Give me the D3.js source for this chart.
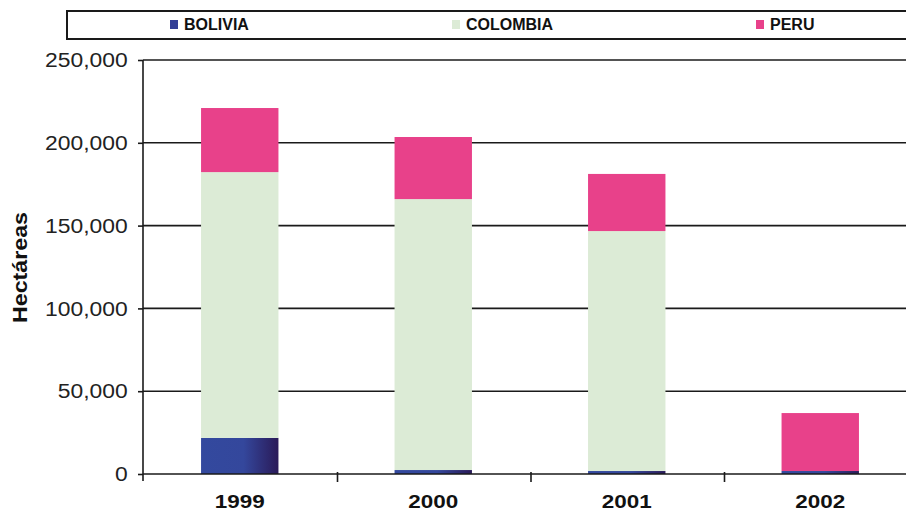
<!DOCTYPE html>
<html>
<head>
<meta charset="utf-8">
<script src="https://cdn.jsdelivr.net/npm/d3@7"></script>
<style>
  body { margin: 0; background: #fff; }
  svg { display: block; font-family: "Liberation Sans", Arial, sans-serif; }
</style>
</head>
<body>
<svg width="906" height="512"></svg>
<script>
// years on the x axis
var years = ["1999", "2000", "2001", "2002"];
// hectares per country
var bolivia = [21800, 2400, 1800, 1800];
var colombia = [160500, 163600, 144900, 0];
var peru = [38700, 37500, 34500, 35000];
var countries = ["BOLIVIA", "COLOMBIA", "PERU"];
var yTicks = [0, 50000, 100000, 150000, 200000, 250000];

var svg = d3.select("svg");

// build rows for d3.stack
var rows = years.map(function (y, i) {
  return { year: y, BOLIVIA: bolivia[i], COLOMBIA: colombia[i], PERU: peru[i] };
});
var series = d3.stack().keys(countries)(rows);

var colors = { BOLIVIA: "url(#bolGrad)", COLOMBIA: "#dcebd6", PERU: "#e8418a" };

// gradient for bolivia bars
var defs = svg.append("defs");
var grad = defs.append("linearGradient").attr("id", "bolGrad")
  .attr("x1", "0%").attr("x2", "100%").attr("y1", "0%").attr("y2", "0%");
grad.selectAll("stop")
  .data([
    { offset: "0%", color: "#33499e" },
    { offset: "55%", color: "#34479c" },
    { offset: "100%", color: "#2a1a58" }
  ])
  .enter().append("stop")
  .attr("offset", d => d.offset)
  .attr("stop-color", d => d.color);

var x = d3.scaleBand().domain(years).range([143, 917]).paddingInner(0.6).paddingOuter(0.3);
var y = d3.scaleLinear().domain([0, 250000]).range([474, 60]);

// gridlines
svg.append("g")
  .selectAll("line")
  .data(yTicks.slice(1))
  .enter().append("line")
  .attr("x1", 143).attr("x2", 906)
  .attr("y1", d => y(d)).attr("y2", d => y(d))
  .attr("stroke", "#1a1a1a").attr("stroke-width", 1.6);

// stacked bars
svg.append("g").selectAll("g")
  .data(series)
  .enter().append("g")
  .attr("fill", d => colors[d.key])
  .selectAll("rect")
  .data(d => d)
  .enter().append("rect")
  .attr("x", d => x(d.data.year))
  .attr("width", x.bandwidth())
  .attr("y", d => y(d[1]))
  .attr("height", d => y(d[0]) - y(d[1]));

// y axis
var yAxis = svg.append("g")
  .attr("transform", "translate(143,0)")
  .call(d3.axisLeft(y).tickValues(yTicks).tickSize(5).tickPadding(10).tickFormat(d3.format(",")));
yAxis.select(".domain").attr("d", "M0,60V481").attr("stroke", "#1a1a1a").attr("stroke-width", 1.6);
yAxis.selectAll(".tick line").attr("stroke", "#1a1a1a").attr("stroke-width", 1.6);
// tick labels are a bit wider in the original, stretch them
yAxis.selectAll(".tick text")
  .attr("font-size", 21).attr("fill", "#222")
  .attr("x", -14)
  .attr("transform", "scale(1.09,1)")
  .style("font-family", "Liberation Sans, Arial, sans-serif");

// x axis line and category ticks
var xg = svg.append("g");
xg.append("line")
  .attr("x1", 143).attr("x2", 906).attr("y1", 474).attr("y2", 474)
  .attr("stroke", "#1a1a1a").attr("stroke-width", 1.6);
xg.selectAll("line.sep")
  .data(years.slice(1))
  .enter().append("line").attr("class", "sep")
  .attr("x1", d => x(d) - x.step() * x.paddingInner() / 2 + 1)
  .attr("x2", d => x(d) - x.step() * x.paddingInner() / 2 + 1)
  .attr("y1", 472).attr("y2", 482)
  .attr("stroke", "#1a1a1a").attr("stroke-width", 1.6);
xg.selectAll("text")
  .data(years)
  .enter().append("text")
  .attr("x", d => x(d) + x.bandwidth() / 2 - 25)
  .attr("y", 508)
  .attr("textLength", 50).attr("lengthAdjust", "spacingAndGlyphs")
  .attr("font-size", 19).attr("font-weight", "bold").attr("fill", "#111")
  .text(d => d);

// y axis title
svg.append("text")
  .attr("transform", "translate(27,323) rotate(-90)")
  .attr("textLength", 111).attr("lengthAdjust", "spacingAndGlyphs")
  .attr("font-size", 21).attr("font-weight", "bold").attr("fill", "#111")
  .text("Hectáreas");

// legend
var legend = svg.append("g");
legend.append("rect")
  .attr("x", 67).attr("y", 11).attr("width", 860).attr("height", 28)
  .attr("fill", "#fff").attr("stroke", "#1a1a1a").attr("stroke-width", 2);
var legendX = [170, 452, 756];
var items = legend.selectAll("g.item")
  .data(countries)
  .enter().append("g").attr("class", "item")
  .attr("transform", (d, i) => "translate(" + legendX[i] + ",0)");
items.append("rect")
  .attr("x", 0).attr("y", 20).attr("width", 8).attr("height", 9)
  .attr("fill", d => d === "BOLIVIA" ? "#333f96" : colors[d]);
items.append("text")
  .attr("x", 14).attr("y", 30)
  .attr("font-size", 16).attr("font-weight", "bold").attr("fill", "#111")
  .text(d => d);
</script>
</body>
</html>
